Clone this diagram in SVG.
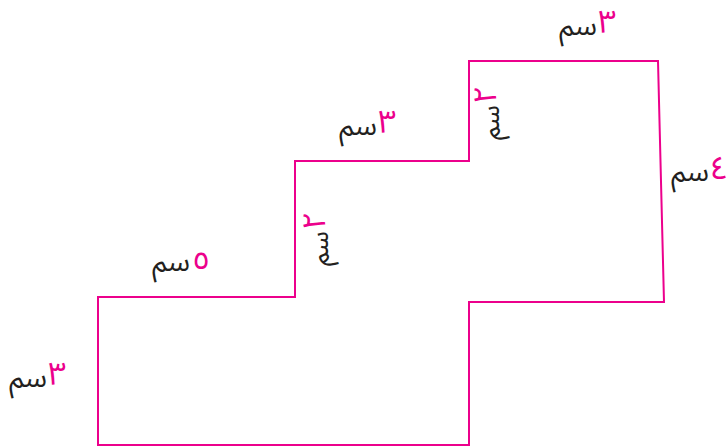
<svg xmlns="http://www.w3.org/2000/svg" width="727" height="447" viewBox="0 0 727 447">
<style>
.shape{fill:none;stroke:#ec008c;stroke-width:2}
.u{font-family:"Noto Sans Arabic","Noto Naskh Arabic","DejaVu Sans",sans-serif;font-size:28px;fill:#231f20}
.d{font-family:"Noto Sans Arabic","Noto Naskh Arabic","DejaVu Sans",sans-serif;font-size:32px;fill:#ec008c}
.uv{font-family:"Noto Sans Arabic","Noto Naskh Arabic","DejaVu Sans",sans-serif;font-size:26px;fill:#231f20}
</style>
<rect width="727" height="447" fill="#ffffff"/>
<path class="shape" d="M98,297 H295 V161 H469 V61 H658 L664,302 H469 V445 H98 Z"/>
<g id="label-top">
<text class="u" x="597" y="35" text-anchor="end">سم</text>
<text class="d" x="598" y="33">٣</text>
</g>
<g id="label-mid">
<text class="u" x="377" y="135" text-anchor="end">سم</text>
<text class="d" x="378" y="133">٣</text>
</g>
<g id="label-right">
<text class="u" x="709" y="181" text-anchor="end">سم</text>
<text class="d" x="710" y="179">٤</text>
</g>
<g id="label-five">
<text class="u" x="190" y="271" text-anchor="end">سم</text>
<text class="d" x="192" y="269">٥</text>
</g>
<g id="label-left">
<text class="u" x="47" y="387" text-anchor="end">سم</text>
<text class="d" x="48" y="385">٣</text>
</g>
<g id="label-vert-upper" transform="translate(499,140) rotate(-90)">
<text class="uv" x="0" y="0" text-anchor="start">سم</text>
<text class="d" x="36" y="-3">٢</text>
</g>
<g id="label-vert-lower" transform="translate(328,266) rotate(-90)">
<text class="uv" x="0" y="0" text-anchor="start">سم</text>
<text class="d" x="36" y="-3">٢</text>
</g>
</svg>
